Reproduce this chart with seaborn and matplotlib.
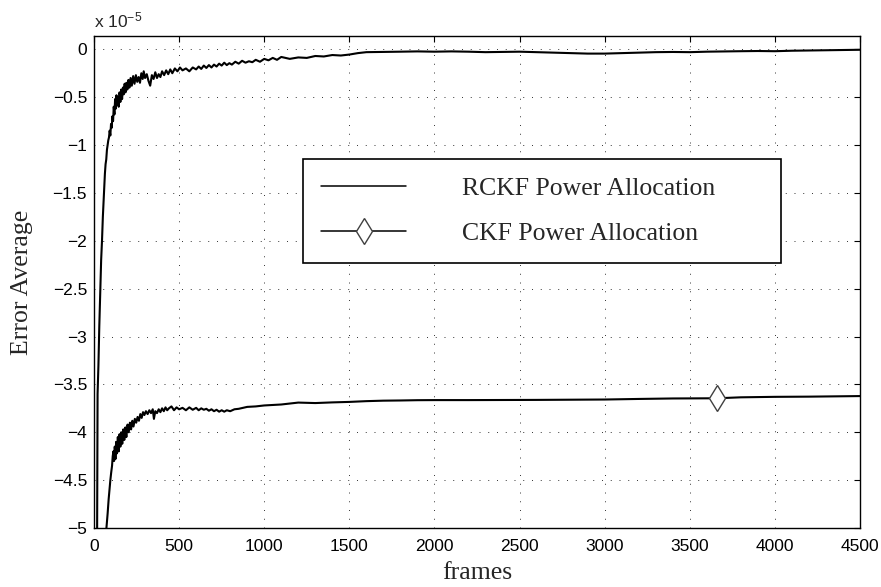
import numpy as np
import pandas as pd
import matplotlib
matplotlib.use("Agg")
import matplotlib.pyplot as plt
import seaborn as sns

# values in units of 1e-5
rckf_frames = [0, 18, 21, 26, 31, 37, 42, 47, 52, 56, 60, 64, 68, 72, 76, 80, 84, 88, 92, 96,
               100, 104, 108, 112, 116, 120, 124, 128, 132, 136, 140, 145, 150, 155, 160, 165,
               170, 175, 180, 185, 190, 196, 202, 208, 215, 222, 230, 238, 246, 254, 262, 270,
               278, 286, 292, 300, 310, 320, 330, 340, 350, 360, 370, 380, 390, 400, 412, 424,
               436, 448, 460, 475, 490, 505, 520, 540, 560, 580, 600, 615, 630, 645, 660, 675,
               690, 705, 720, 735, 750, 765, 780, 795, 810, 830, 850, 870, 890, 910, 930, 950,
               975, 1000, 1025, 1050, 1075, 1100, 1150, 1200, 1250, 1300, 1350,
               1400, 1450, 1500, 1550, 1600, 1700, 1800, 1900, 2000, 2100, 2200, 2300, 2400,
               2500, 2600, 2700, 2800, 2900, 3000, 3100, 3200, 3300, 3400, 3500, 3600, 3700,
               3800, 3900, 4000, 4100, 4200, 4300, 4400, 4500]
rckf_values = [-9.0, -5.2, -3.6, -3.3, -2.9, -2.5, -2.2, -2.0, -1.75, -1.6, -1.45, -1.3, -1.2,
               -1.15, -1.05, -1.0, -0.95, -0.92, -0.85, -0.9, -0.78, -0.82, -0.7, -0.75, -0.6,
               -0.68, -0.52, -0.62, -0.48, -0.58, -0.5, -0.6, -0.45, -0.55, -0.42, -0.52, -0.4,
               -0.47, -0.36, -0.45, -0.35, -0.42, -0.32, -0.4, -0.3, -0.38, -0.28, -0.36, -0.27,
               -0.34, -0.29, -0.35, -0.25, -0.31, -0.23, -0.3, -0.26, -0.33, -0.38, -0.27, -0.31,
               -0.24, -0.3, -0.26, -0.29, -0.23, -0.27, -0.22, -0.26, -0.21, -0.25, -0.2, -0.23,
               -0.19, -0.22, -0.2, -0.23, -0.19, -0.21, -0.18, -0.205, -0.17, -0.195, -0.165,
               -0.19, -0.16, -0.18, -0.15, -0.17, -0.14, -0.165, -0.145, -0.16, -0.13, -0.15,
               -0.12, -0.14, -0.125, -0.135, -0.11, -0.13, -0.1, -0.115, -0.09, -0.11, -0.08,
               -0.1, -0.085, -0.09, -0.07, -0.075, -0.06, -0.065, -0.055, -0.04, -0.03, -0.028,
               -0.025, -0.022, -0.025, -0.022, -0.025, -0.03, -0.028, -0.025, -0.03, -0.035,
               -0.04, -0.045, -0.045, -0.04, -0.035, -0.03, -0.028, -0.03, -0.025, -0.022,
               -0.02, -0.018, -0.02, -0.015, -0.012, -0.01, -0.008, -0.005]

ckf_frames = [0, 60, 73, 80, 86, 91, 96, 101, 106, 110, 114, 118, 122, 126, 130, 135, 140, 145,
              150, 155, 160, 166, 172, 178, 184, 190, 197, 204, 211, 218, 225, 232, 240, 248,
              256, 264, 272, 280, 288, 296, 305, 315, 325, 335, 345, 352, 360, 370, 380, 390,
              400, 410, 420, 430, 440, 455, 470, 485, 500, 520, 540, 560, 580, 600, 615, 630,
              645, 660, 675, 690, 705, 720, 735, 750, 765, 780, 800, 825, 850, 875, 900, 950,
              1000, 1050, 1100, 1150, 1200, 1300, 1400, 1500, 1600, 1700, 1800, 1900, 2000,
              2200, 2400, 2600, 2800, 3000, 3200, 3400, 3660, 3800, 4000, 4200, 4500]
ckf_values = [-12.0, -6.0, -5.0, -4.85, -4.7, -4.6, -4.5, -4.42, -4.35, -4.25, -4.2, -4.3,
              -4.15, -4.28, -4.1, -4.22, -4.05, -4.2, -4.02, -4.15, -4.0, -4.12, -3.97, -4.08,
              -3.95, -4.05, -3.92, -4.0, -3.9, -3.97, -3.88, -3.94, -3.86, -3.9, -3.84, -3.88,
              -3.81, -3.85, -3.79, -3.82, -3.78, -3.81, -3.77, -3.8, -3.76, -3.86, -3.78, -3.8,
              -3.76, -3.79, -3.75, -3.78, -3.74, -3.77, -3.75, -3.73, -3.77, -3.74, -3.76,
              -3.745, -3.77, -3.74, -3.765, -3.745, -3.77, -3.75, -3.765, -3.755, -3.775,
              -3.76, -3.78, -3.765, -3.785, -3.77, -3.785, -3.77, -3.78, -3.76, -3.755,
              -3.745, -3.735, -3.73, -3.72, -3.715, -3.71, -3.7, -3.69, -3.695, -3.688,
              -3.683, -3.675, -3.67, -3.668, -3.665, -3.664, -3.664, -3.663, -3.662, -3.66,
              -3.658, -3.652, -3.647, -3.645, -3.635, -3.63, -3.628, -3.622]
ckf_marker_frame = 3660

labels = ["RCKF Power Allocation", "CKF Power Allocation"]
y_ticks = [-5, -4.5, -4, -3.5, -3, -2.5, -2, -1.5, -1, -0.5, 0]
x_ticks = [0, 500, 1000, 1500, 2000, 2500, 3000, 3500, 4000, 4500]

sns.set_theme(style="white")
plt.rcParams["font.family"] = ["Liberation Sans", "DejaVu Sans"]
plt.rcParams["mathtext.fontset"] = "custom"
plt.rcParams["mathtext.rm"] = "Liberation Sans"
plt.rcParams["mathtext.it"] = "Liberation Sans"

rckf = pd.DataFrame({"frame": rckf_frames, "value": rckf_values})
ckf = pd.DataFrame({"frame": ckf_frames, "value": ckf_values})

fig = plt.figure(figsize=(8.81, 5.87), dpi=100)
ax = fig.add_axes([0.1067, 0.1005, 0.8695, 0.8382])

sns.lineplot(data=rckf, x="frame", y="value", ax=ax, estimator=None, sort=False,
             color="black", linewidth=1.5)
sns.lineplot(data=ckf, x="frame", y="value", ax=ax, estimator=None, sort=False,
             color="black", linewidth=1.5, marker="d", markersize=13.5,
             markerfacecolor="white", markeredgecolor="0.25", markeredgewidth=1.0,
             markevery=[ckf_frames.index(ckf_marker_frame)])

ax.set_xlim(0, 4500)
ax.set_ylim(-5, 0.139)
ax.set_xticks(x_ticks)
ax.set_yticks(y_ticks)
ax.set_yticklabels([f"{v:g}".replace("-", "\u2212") for v in y_ticks])
ax.tick_params(direction="in", length=4.5, width=0.8, top=True, right=True,
               labelsize=12.5, colors="black")
ax.tick_params(axis="x", pad=8)
ax.tick_params(axis="y", pad=5)
for s in ax.spines.values():
    s.set_color("black")
    s.set_linewidth(1.0)

ax.grid(True, linestyle=(0, (1, 8)), linewidth=0.7, color="0.2")

ax.set_xlabel("frames", fontfamily="Liberation Serif", fontsize=18.5, labelpad=6)
ax.set_ylabel("Error Average", fontfamily="Liberation Serif", fontsize=18.5, labelpad=14)

fig.text(94 / 881, 1 - 27 / 587, "x 10$^{-5}$", fontsize=12.5, va="baseline", ha="left")

leg = ax.legend(ax.get_lines()[:2], labels, loc="upper left",
                bbox_to_anchor=(0.273, 0.75, 0.624, 0.0), mode="expand", borderaxespad=0,
                prop={"family": "Liberation Serif", "size": 18.5}, handlelength=3.3,
                handletextpad=2.2, borderpad=0.7, labelspacing=0.85, fancybox=False,
                framealpha=1, edgecolor="black")
leg.get_frame().set_linewidth(1.2)
# legend line keeps a thin stroke like the reference
for h in leg.get_lines():
    h.set_linewidth(1.1)

fig.savefig("out.png", dpi=100)
